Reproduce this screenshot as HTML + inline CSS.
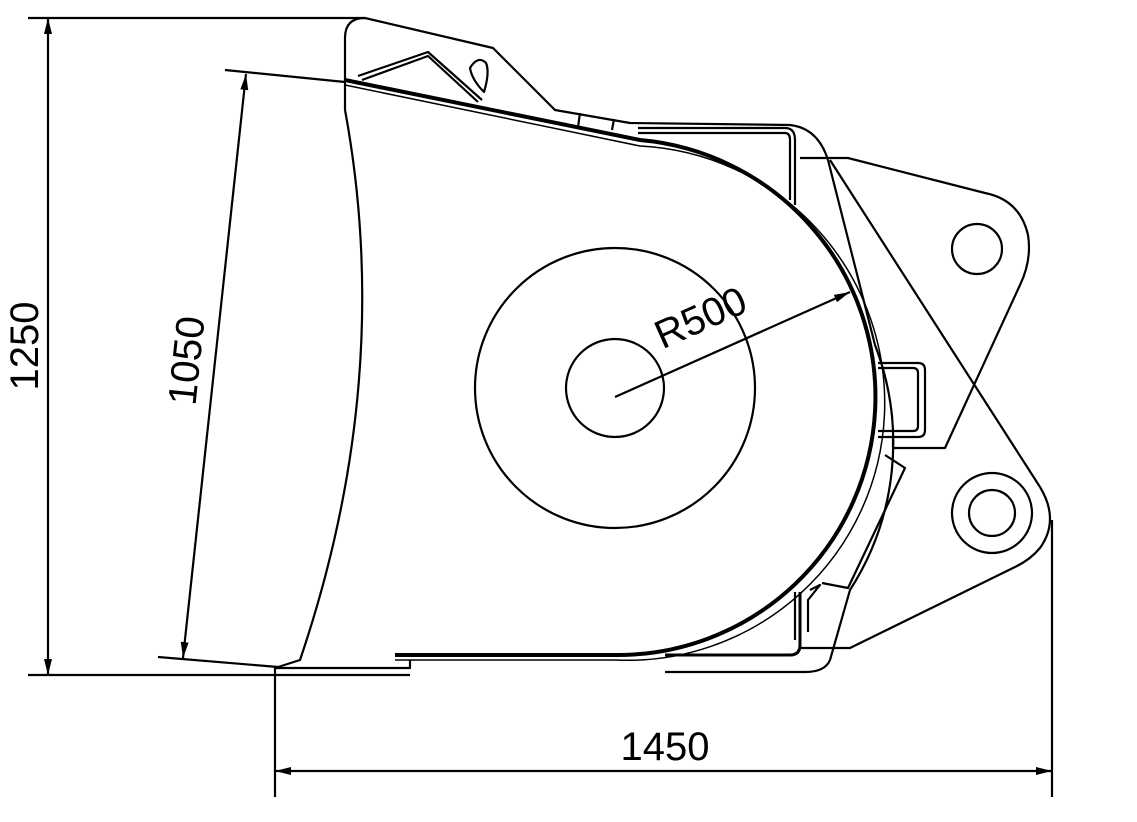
<!DOCTYPE html>
<html><head><style>html,body{margin:0;padding:0;background:#fff}svg{display:block}</style></head>
<body>
<svg width="1137" height="822" viewBox="0 0 1137 822" xmlns="http://www.w3.org/2000/svg" fill="none" stroke="#000" stroke-width="2.2" stroke-linejoin="round">
<defs><marker id="a" markerWidth="16" markerHeight="8" refX="16" refY="4" orient="auto-start-reverse" markerUnits="userSpaceOnUse"><path d="M0,0 L16,4 L0,8 Z" fill="#000" stroke="none"/></marker></defs>
<line x1="28" y1="18" x2="365" y2="18"/>
<line x1="28" y1="675" x2="410" y2="675"/>
<line x1="48" y1="18" x2="48" y2="675" marker-start="url(#a)" marker-end="url(#a)"/>
<text x="38" y="346" transform="rotate(-90 38 346)" font-family="Liberation Sans, sans-serif" font-size="40" fill="#000" stroke="none" text-anchor="middle">1250</text>
<line x1="225" y1="70" x2="345" y2="82"/>
<line x1="158" y1="657" x2="278" y2="667"/>
<line x1="246" y1="74" x2="183" y2="658" marker-start="url(#a)" marker-end="url(#a)"/>
<text x="200" y="362" transform="rotate(-84 200 362)" font-family="Liberation Sans, sans-serif" font-size="40" fill="#000" stroke="none" text-anchor="middle">1050</text>
<line x1="275" y1="668" x2="275" y2="797"/>
<line x1="1052" y1="520" x2="1052" y2="797"/>
<line x1="275" y1="771" x2="1052" y2="771" marker-start="url(#a)" marker-end="url(#a)"/>
<text x="665" y="760" font-family="Liberation Sans, sans-serif" font-size="40" fill="#000" stroke="none" text-anchor="middle">1450</text>
<path d="M365,18 L493,48 L555,110 L630,123 L790,125 Q818,128 828,160"/>
<path d="M365,18 Q345,18 345,38 L345,110"/>
<path d="M345,110 Q395,380 300,660 L275,668 L410,668 L410,660"/>
<path d="M345,80 L640,140 A258,258 0 0 1 615,655 L395,655" stroke-width="4"/>
<path d="M345,85 L640,146 A252,252 0 0 1 615,660 L395,660" stroke-width="1.5"/>
<path d="M638,128 L785,128 Q795,128 795,140 L795,205"/>
<path d="M638,133 L785,133 Q790,133 790,140 L790,200"/>
<line x1="580" y1="113" x2="578" y2="127"/><line x1="614" y1="119" x2="612" y2="130"/>
<path d="M358,76 L428,52 L482,100 M362,80 L428,56 L478,102"/>
<path d="M470,68 Q478,55 486,63 Q490,72 484,92 Q472,80 470,68 Z"/>
<circle cx="615" cy="388" r="49"/>
<circle cx="615" cy="388" r="140"/>
<line x1="615" y1="397" x2="850" y2="292" marker-end="url(#a)"/>
<text x="706" y="330" transform="rotate(-24 706 330)" font-family="Liberation Sans, sans-serif" font-size="40" fill="#000" stroke="none" text-anchor="middle">R500</text>
<path d="M800,158 L848,158 L985,193 Q1020,200 1028,235 Q1032,260 1020,285 L945,448 L893,448 L893,438"/>
<line x1="830" y1="160" x2="1040" y2="487"/>
<path d="M1040,487 Q1060,520 1040,548 Q1030,560 1015,567 L850,648 L800,648"/>
<circle cx="977" cy="249" r="25"/>
<circle cx="992" cy="513" r="23"/>
<circle cx="992" cy="513" r="40"/>
<path d="M878,363 L918,363 Q925,363 925,370 L925,430 Q925,437 918,437 L878,437"/>
<path d="M878,368 L913,368 Q918,368 918,373 L918,426 Q918,431 913,431 L878,431"/>
<path d="M885,455 L905,468 L848,588 L822,583"/>
<path d="M828,160 L875,345 A272,272 0 0 1 850,590 L830,660 Q825,672 805,672 L665,672"/>
<path d="M800,592 L800,645 Q800,655 790,655 L665,655" stroke-width="3"/>
<path d="M795,592 L795,640 M810,590 L820,585 L808,600 L808,632"/>
</svg>
</body></html>
